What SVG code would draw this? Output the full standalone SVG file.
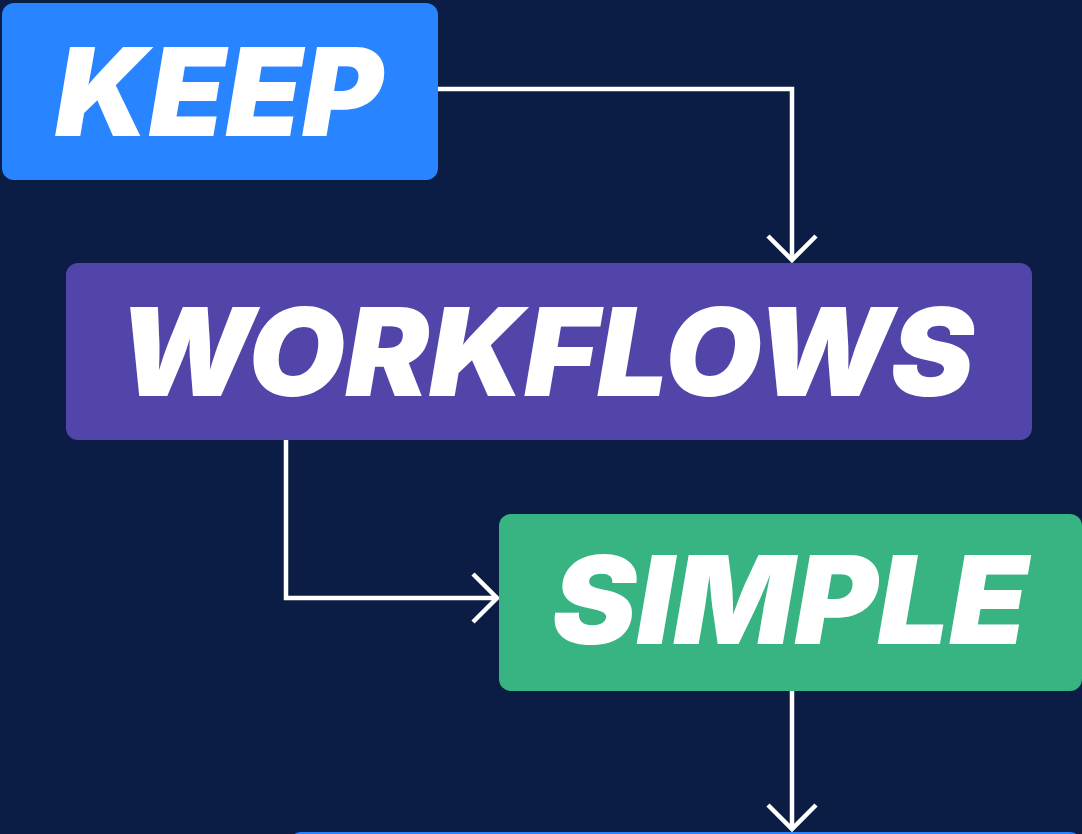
<svg xmlns="http://www.w3.org/2000/svg" width="1082" height="834" viewBox="0 0 1082 834">
  <defs>
    <style>
      .lbl { font-family: Inter, "Liberation Sans", sans-serif; font-weight: 900; font-style: italic; fill: #FFFFFF; text-anchor: middle; }
      .conn { fill: none; stroke: #FFFFFF; stroke-width: 4.5; }
    </style>
    <marker id="chev" viewBox="-30 -30 34 60" markerWidth="34" markerHeight="60" markerUnits="userSpaceOnUse" refX="0" refY="0" orient="auto">
      <path d="M -24 -24 L 0 0 L -24 24" fill="none" stroke="#FFFFFF" stroke-width="4.5"/>
    </marker>
  </defs>
  <rect x="0" y="0" width="1082" height="834" fill="#0B1D44"/>

  <g id="connectors">
    <path class="conn" d="M 438 89 H 792 V 260" marker-end="url(#chev)"/>
    <path class="conn" d="M 286 440 V 598 H 497" marker-end="url(#chev)"/>
    <path class="conn" d="M 792 691 V 829" marker-end="url(#chev)"/>
  </g>

  <g id="keep">
    <rect x="2" y="3" width="436" height="177" rx="12" fill="#2985FF"/>
    <text class="lbl" x="219" y="136" font-size="122" textLength="328" lengthAdjust="spacingAndGlyphs">KEEP</text>
  </g>

  <g id="workflows">
    <rect x="66" y="263" width="966" height="177" rx="12" fill="#5245AA"/>
    <text class="lbl" x="546" y="396" font-size="122" textLength="856" lengthAdjust="spacingAndGlyphs">WORKFLOWS</text>
  </g>

  <g id="simple">
    <rect x="499" y="514" width="583" height="177" rx="12" fill="#38B482"/>
    <text class="lbl" x="790" y="644" font-size="122" textLength="476" lengthAdjust="spacingAndGlyphs">SIMPLE</text>
  </g>

  <g id="next">
    <rect x="289" y="832" width="793" height="177" rx="12" fill="#2985FF"/>
  </g>
</svg>
